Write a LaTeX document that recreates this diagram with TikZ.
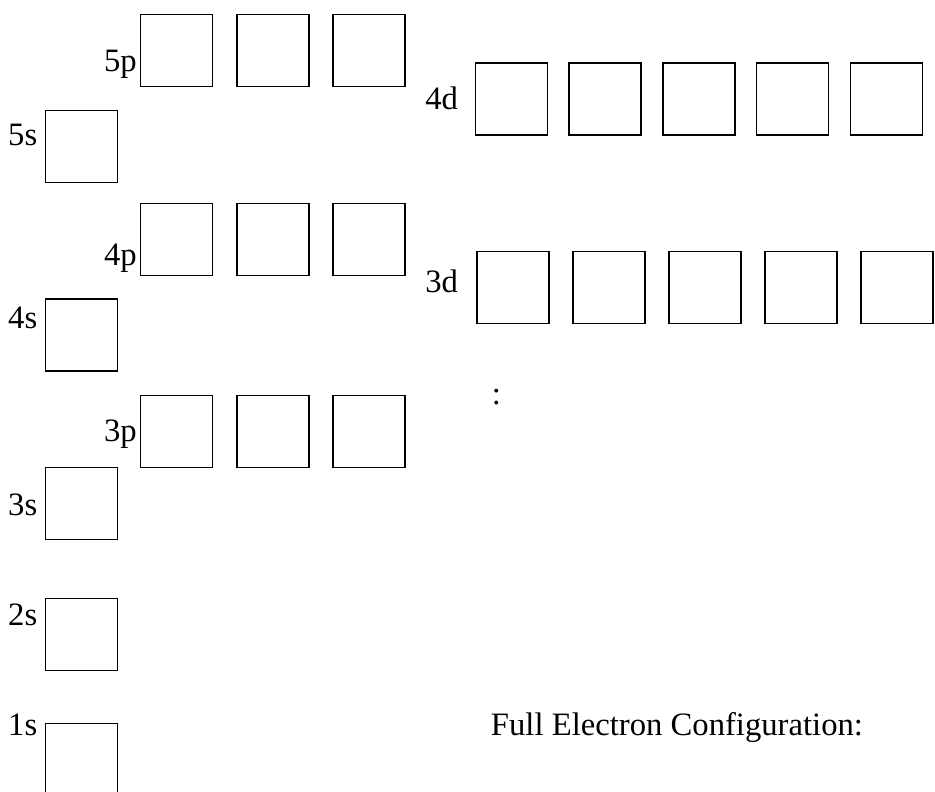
\documentclass[tikz,border=0pt]{standalone}
\usepackage{fontspec}
\setmainfont{Liberation Serif}
\begin{document}
\begin{tikzpicture}[x=0.75pt,y=-0.75pt,
  orb/.style={draw=black,line width=1pt,rectangle,inner sep=0pt,minimum width=54pt,minimum height=54pt,anchor=north west},
  lbl/.style={inner sep=0pt,font=\fontsize{24.5}{29}\selectfont}]
\useasboundingbox (0,0) rectangle (935,792);
% s orbitals
\node[orb] (s5) at (44.7,110) {};
\node[orb] (s4) at (44.7,298.3) {};
\node[orb] (s3) at (44.7,466.7) {};
\node[orb] (s2) at (44.7,597.7) {};
\node[orb] (s1) at (44.7,722.5) {};
\node[lbl,anchor=base east] (l5s) at (37.5,145) {5s};
\node[lbl,anchor=base east] (l4s) at (37.5,328.3) {4s};
\node[lbl,anchor=base east] (l3s) at (37.5,515) {3s};
\node[lbl,anchor=base east] (l2s) at (37.5,625) {2s};
\node[lbl,anchor=base east] (l1s) at (37.5,735.7) {1s};
% p orbitals
\foreach \n/\y in {5/14,4/202.7,3/395}{
  \node[orb] (p\n a) at (140,\y) {};
  \node[orb] (p\n b) at (236.3,\y) {};
  \node[orb] (p\n c) at (332.3,\y) {};
}
\node[lbl,anchor=base east] (l5p) at (137,72) {5p};
\node[lbl,anchor=base east] (l4p) at (137,265) {4p};
\node[lbl,anchor=base east] (l3p) at (137,441) {3p};
% d orbitals
\node[orb] (d4a) at (474.7,62.3) {};
\node[orb] (d4b) at (568.3,62.3) {};
\node[orb] (d4c) at (662.3,62.3) {};
\node[orb] (d4d) at (756,62.3) {};
\node[orb] (d4e) at (850,62.3) {};
\node[orb] (d3a) at (476.3,251) {};
\node[orb] (d3b) at (572.3,251) {};
\node[orb] (d3c) at (668.3,251) {};
\node[orb] (d3d) at (764.3,251) {};
\node[orb] (d3e) at (860.3,251) {};
\node[lbl,anchor=base west] (l4d) at (425,109) {4d};
\node[lbl,anchor=base west] (l3d) at (425,292) {3d};
% colon and text
\node[lbl,anchor=base west] (colon) at (491.5,404) {:};
\node[lbl,anchor=base west] (full) at (490.7,735.7) {Full Electron Configuration:};
\end{tikzpicture}
\end{document}
